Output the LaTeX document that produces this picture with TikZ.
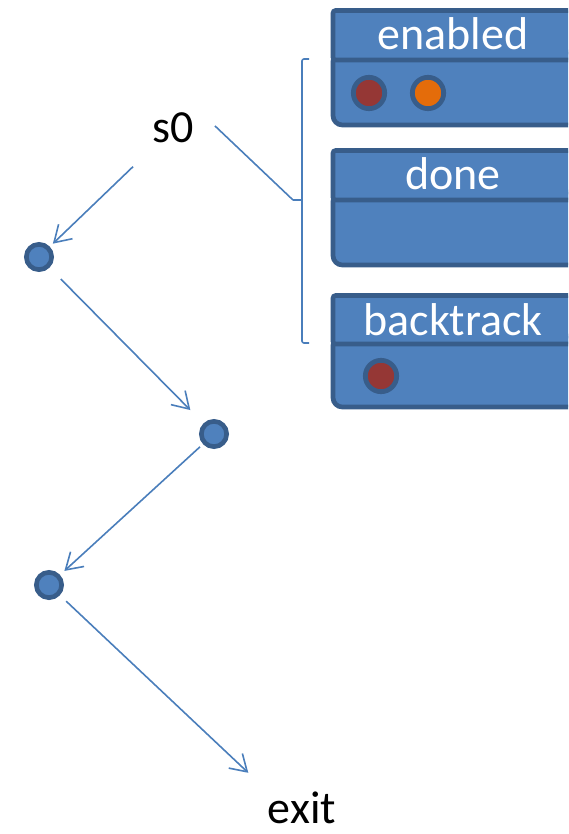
\documentclass[tikz,border=0pt]{standalone}
\usepackage{fontspec}
\setmainfont{Carlito}
\usetikzlibrary{arrows.meta}
\definecolor{boxfill}{HTML}{4F81BD}
\definecolor{boxline}{HTML}{385D8A}
\definecolor{linkblue}{HTML}{4A7EBB}
\definecolor{dotred}{HTML}{953735}
\definecolor{dotorange}{HTML}{E46C0A}
\tikzset{
  x=0.75pt, y=-0.75pt,
  lbl/.style={font=\fontsize{34.5}{40}\selectfont, inner sep=0pt},
  hdr/.style={lbl, text=white},
  boxpart/.style={draw=boxline, fill=boxfill, line width=3.5pt},
  state/.style={circle, draw=boxline, fill=boxfill, line width=3.5pt,
    minimum size=19pt, inner sep=0pt},
  token/.style={circle, draw=boxline, line width=3.6pt,
    minimum size=23.5pt, inner sep=0pt},
  link/.style={draw=linkblue, line width=1.2pt},
  arr/.style={link, -{Straight Barb[length=12pt,width=15pt]}},
}
\begin{document}
\begin{tikzpicture}
\useasboundingbox (0,0) rectangle (568,834);
\clip (0,0) rectangle (568,834);

% set containers: body first, header on top
\draw[boxpart, rounded corners=7pt] (333,52) rectangle (585,125);
\draw[boxpart, rounded corners=2pt] (333,10.5) rectangle (585,60);
\node[hdr, anchor=base] (en) at (453,50) {enabled};
\node[token, fill=dotred] (e1) at (369,93) {};
\node[token, fill=dotorange] (e2) at (428,93) {};

\draw[boxpart, rounded corners=7pt] (333,192) rectangle (585,265);
\draw[boxpart, rounded corners=2pt] (333,150.5) rectangle (585,200);
\node[hdr, anchor=base] (dn) at (453,190) {done};

\draw[boxpart, rounded corners=7pt] (333,336) rectangle (585,407);
\draw[boxpart, rounded corners=2pt] (333,295.5) rectangle (585,344);
\node[hdr, anchor=base] (bk) at (453,335) {backtrack};
\node[token, fill=dotred] (b1) at (381,376) {};

% states of the path
\node[lbl, anchor=base] (s0) at (173,143) {s0};
\node[state] (c1) at (39,257) {};
\node[state] (c2) at (214,434) {};
\node[state] (c3) at (49,585) {};
\node[lbl, anchor=base] (exit) at (302,823) {exit};

% brace grouping the three sets
\draw[link, rounded corners=1.5pt] (309,59) -- (302,59) -- (302,343) -- (309,343);
\coordinate (bt) at (293,200);
\draw[link] (302,200) -- (bt);
\draw[link] ([shift={(21,13)}]s0.north east) -- (bt);

% transitions
\draw[arr, shorten <=25pt, shorten >=3.2pt] (s0) -- (c1);
\draw[arr, shorten <=12pt, shorten >=14pt] (c1) -- (c2);
\draw[arr, shorten <=3pt, shorten >=4.4pt] (c2) -- (c3);
\draw[arr, shorten <=6.4pt, shorten >=20pt] (c3) -- (exit.north west);
\end{tikzpicture}
\end{document}
